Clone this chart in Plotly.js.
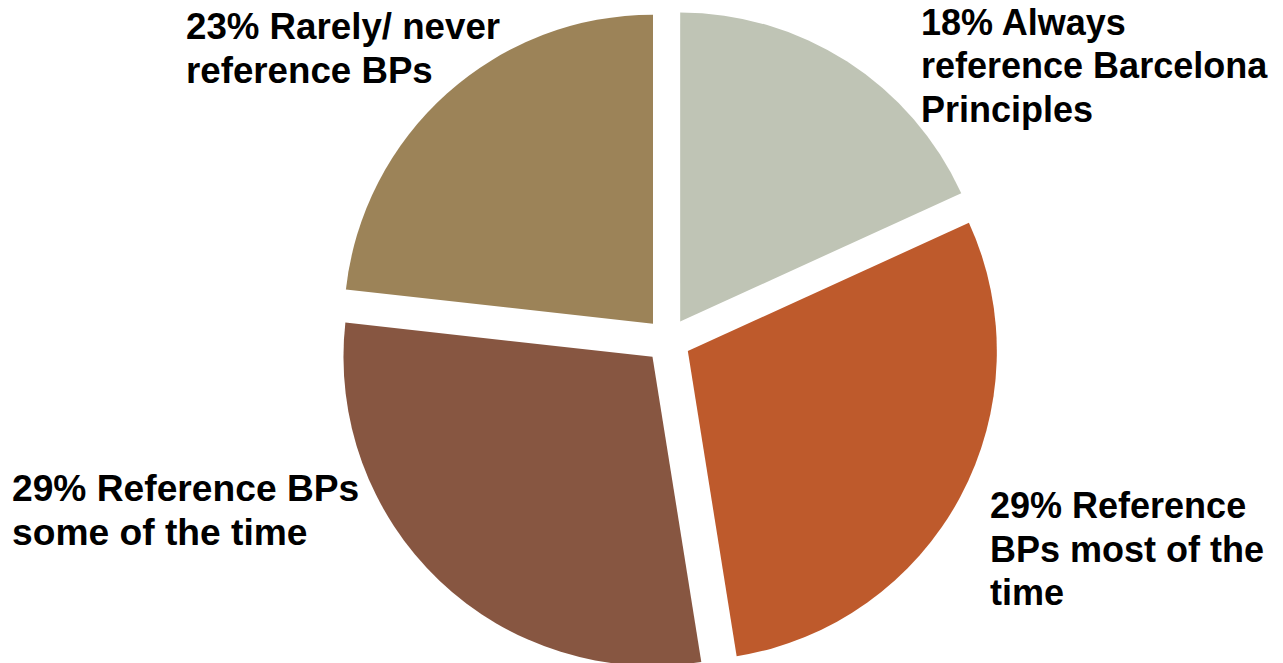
<!DOCTYPE html>
<html>
<head>
<meta charset="utf-8">
<script src="https://cdn.plot.ly/plotly-3.0.1.min.js"></script>
<style>
  html, body { margin: 0; padding: 0; background: #ffffff; overflow: hidden; }
  #chart { width: 1283px; height: 672px; }
</style>
</head>
<body>
<div id="chart"></div>
<script>
// Data (clockwise from 12 o'clock)
const categories = [
  "Always reference Barcelona Principles",
  "Reference BPs most of the time",
  "Reference BPs some of the time",
  "Rarely/ never reference BPs"
];
const values = [18, 29, 29, 23];
const sliceColors = ["#BFC4B5", "#BE5A2C", "#875641", "#9C8358"];

// Label lines as they appear beside each slice
const labelLines = [
  ["18% Always", "reference Barcelona", "Principles"],
  ["29% Reference", "BPs most of the", "time"],
  ["29% Reference BPs", "some of the time"],
  ["23% Rarely/ never", "reference BPs"]
];

// Label placement (left edge px, first-line middle px, line step px, font size)
const W = 1283, H = 672, TOP = 9, PLOT_H = H - TOP;
const labelPos = [
  {x: 919, y: 22, step: 43.5, size: 36},
  {x: 988, y: 505.5, step: 43.5, size: 36},
  {x: 10, y: 488, step: 44, size: 37.2},
  {x: 184, y: 26.5, step: 43.5, size: 36.7}
];

const annotations = [];
labelLines.forEach((lines, i) => {
  lines.forEach((t, j) => {
    const ypx = labelPos[i].y + j * labelPos[i].step;
    annotations.push({
      xref: "paper", yref: "paper",
      x: labelPos[i].x / W,
      y: 1 - (ypx - TOP) / PLOT_H,
      xanchor: "left", yanchor: "middle",
      text: t, showarrow: false, align: "left",
      font: {family: "Liberation Sans, Arial, sans-serif", size: labelPos[i].size, color: "#000000", weight: "bold"}
    });
  });
});

const cx = 668;
const trace = {
  type: "pie",
  labels: categories,
  values: values,
  sort: false,
  direction: "clockwise",
  rotation: 0,
  pull: [0.0728, 0.0728, 0.0728, 0.0728],
  marker: {colors: sliceColors, line: {width: 0}},
  textinfo: "none",
  hoverinfo: "label+percent",
  domain: {x: [2 * cx / W - 1, 1], y: [0, 1]},
  showlegend: false
};

Plotly.newPlot("chart", [trace], {
  width: W, height: H,
  margin: {l: 0, r: 0, t: TOP, b: 0, pad: 0},
  paper_bgcolor: "#ffffff",
  plot_bgcolor: "#ffffff",
  showlegend: false,
  annotations: annotations
}, {displayModeBar: false, staticPlot: true});
</script>
</body>
</html>
